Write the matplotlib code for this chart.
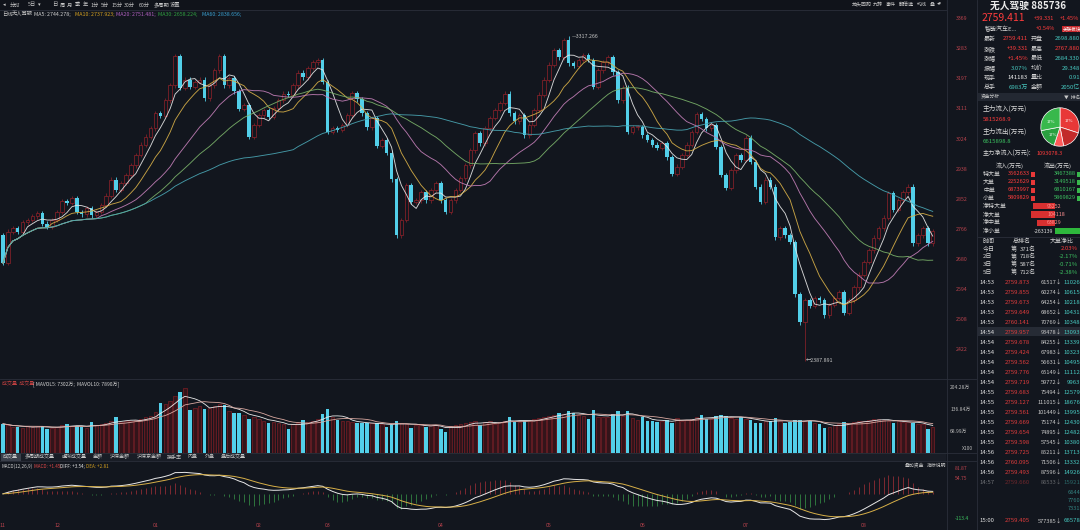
import matplotlib
matplotlib.use('Agg')
import matplotlib.pyplot as plt
from matplotlib.patches import Rectangle
import numpy as np
import pandas as pd

plt.rcParams['font.family'] = ['Noto Sans CJK SC', 'DejaVu Sans']

C = {
    'bg': '#12161e',
    'bar': '#191d26',
    'line': '#2a2f3a',
    'up': '#92222a',
    'down': '#52cfe9',
    'text': '#d6d6d6',
    'sub': '#9a9ea8',
    'red': '#f04848',
    'green': '#3cc060',
    'teal': '#46c8c0',
    'axis_red': '#b8424c',
    'ma5': '#e8e8e8', 'ma10': '#d8b048', 'ma20': '#c47fb8',
    'ma30': '#7bb36a', 'ma60': '#4aa7b5',
}

# ---- daily closes (Nov .. Aug) ----
first_open = 2748.0
closes = [
    2668, 2757, 2768, 2757, 2785, 2791, 2802, 2811, 2780, 2771,
    2791, 2814, 2845, 2840, 2854, 2814, 2808, 2825, 2805, 2814,
    2834, 2860, 2906, 2877, 2897, 2920, 2948, 2977, 3006, 3029,
    3054, 3097, 3089, 3134, 3177, 3260, 3169, 3192, 3172, 3186,
    3192, 3140, 3177, 3220, 3260, 3177, 3197, 3160, 3109, 3120,
    3029, 3063, 3091, 3106, 3086, 3111, 3134, 3152, 3149, 3177,
    3212, 3200, 3226, 3243, 3249, 3186, 3043, 3054, 3049, 3063,
    3091, 3154, 3137, 3097, 3057, 3083, 3003, 3020, 2983, 2908,
    2748, 2791, 2891, 2843, 2848, 2871, 2848, 2877, 2897, 2848,
    2814, 2848, 2877, 2911, 2948, 2991, 3040, 3011, 3054, 3083,
    3106, 3126, 3152, 3097, 3074, 3091, 3034, 3063, 3106, 3149,
    3192, 3235, 3277, 3257, 3306, 3240, 3232, 3249, 3263, 3249,
    3172, 3220, 3243, 3257, 3214, 3134, 3169, 3043, 3057, 3057,
    3034, 3020, 3006, 2997, 3011, 2971, 2923, 2943, 2977, 3006,
    3043, 3094, 3080, 3054, 3063, 3000, 2920, 2883, 2934, 2977,
    2963, 3026, 2957, 2886, 2843, 2906, 2886, 2742, 2768, 2748,
    2728, 2579, 2499, 2562, 2545, 2568, 2562, 2519, 2548, 2568,
    2585, 2525, 2562, 2599, 2634, 2671, 2705, 2740, 2768, 2797,
    2868, 2820, 2848, 2871, 2886, 2725, 2748, 2768, 2725, 2759.411,
]
volumes = [
    90, 85, 80, 80, 78, 82, 80, 82, 82, 75,
    78, 80, 85, 90, 82, 84, 80, 78, 96, 85,
    88, 92, 100, 112, 95, 98, 100, 102, 105, 110,
    115, 125, 155, 150, 160, 175, 188, 200, 132, 140,
    145, 137, 140, 145, 150, 147, 130, 122, 124, 118,
    106, 110, 105, 100, 91, 95, 92, 90, 75, 88,
    92, 101, 95, 100, 105, 119, 135, 112, 101, 100,
    98, 96, 91, 91, 91, 92, 91, 90, 81, 86,
    99, 92, 90, 78, 85, 88, 81, 85, 86, 75,
    65, 82, 85, 88, 92, 95, 100, 86, 95, 98,
    90, 96, 100, 112, 96, 95, 99, 100, 105, 108,
    112, 115, 118, 124, 120, 130, 124, 118, 115, 106,
    132, 112, 110, 112, 119, 130, 115, 130, 108, 101,
    112, 100, 98, 96, 98, 103, 94, 109, 100, 102,
    105, 110, 117, 106, 106, 114, 117, 114, 108, 105,
    112, 106, 103, 94, 91, 100, 98, 109, 98, 91,
    95, 101, 103, 100, 99, 92, 90, 78, 81, 85,
    88, 96, 92, 95, 98, 100, 102, 104, 105, 102,
    100, 91, 98, 96, 95, 94, 90, 88, 73, 80,
]
high_idx, high_val = 115, 3317.266
low_idx, low_val = 163, 2387.891

price_ticks = [3369, 3283, 3197, 3111, 3024, 2938, 2852, 2766, 2680, 2594, 2508, 2422]
vol_ticks = [204.28, 136.84, 68.99]
vol_tick_labels = ['204.28万', '136.84万', '68.99万']
month_idx = [0, 11, 31, 52, 66, 89, 111, 130, 151, 175]
month_labels = ['11', '12', '01', '02', '03', '04', '05', '06', '07', '08']
ma_windows = [5, 10, 20, 30, 60]
ma_header = ['MA5: 2744.278;', 'MA10: 2737.923;', 'MA20: 2751.481;',
             'MA30: 2658.224;', 'MA60: 2838.656;']

# ---- layout helpers (pixel coordinates of the 1080x530 canvas) ----
W, H = 1080, 530
fig = plt.figure(figsize=(W / 100, H / 100), dpi=100)
fig.patch.set_facecolor(C['bg'])


def px_box(x0, y0, x1, y1):
    return [x0 / W, 1 - y1 / H, (x1 - x0) / W, (y1 - y0) / H]


def T(x, y, s, **kw):
    kw.setdefault('va', 'center')
    kw.setdefault('fontsize', 4.3)
    kw.setdefault('color', C['text'])
    return fig.text(x / W, 1 - y / H, s, **kw)


def hline(y, x0, x1, color=C['line'], lw=0.6):
    fig.add_artist(plt.Line2D([x0 / W, x1 / W], [1 - y / H, 1 - y / H], color=color, lw=lw))


def vline(x, y0, y1, color=C['line'], lw=0.6):
    fig.add_artist(plt.Line2D([x / W, x / W], [1 - y0 / H, 1 - y1 / H], color=color, lw=lw))


def rect(x0, y0, x1, y1, color):
    fig.add_artist(Rectangle((x0 / W, 1 - y1 / H), (x1 - x0) / W, (y1 - y0) / H,
                             transform=fig.transFigure, facecolor=color, edgecolor='none', zorder=0))


x = np.arange(len(closes))
xlim = (-0.6, 191.7)
ax = fig.add_axes(px_box(0, 10, 946, 378))
axv = fig.add_axes(px_box(0, 380, 946, 453))
axm = fig.add_axes(px_box(0, 462, 946, 521))
for a in (ax, axv, axm):
    a.set_facecolor(C['bg'])
    a.set_xlim(*xlim)
    for s in a.spines.values():
        s.set_visible(False)
    a.tick_params(length=0)
    a.set_xticks([])

# ---- candles ----
cl = np.array(closes, dtype=float)
op = np.r_[first_open, cl[:-1]]
up = cl >= op
wick = 7.0
hi = np.maximum(op, cl) + wick
lo = np.minimum(op, cl) - wick
hi[high_idx] = high_val
lo[low_idx] = low_val
body_lo = np.minimum(op, cl)
body_h = np.maximum(np.abs(cl - op), 2.0)

ax.vlines(x[up], lo[up], hi[up], color=C['up'], lw=0.5, zorder=2)
ax.vlines(x[~up], lo[~up], hi[~up], color=C['down'], lw=0.6, zorder=2)
ax.bar(x[up], body_h[up], bottom=body_lo[up], width=0.72, facecolor=C['bg'],
       edgecolor=C['up'], lw=0.5, zorder=3)
ax.bar(x[~up], body_h[~up], bottom=body_lo[~up], width=0.72, color=C['down'], lw=0, zorder=3)

s = pd.Series(cl)
ma_colors = [C['ma5'], C['ma10'], C['ma20'], C['ma30'], C['ma60']]
for n, col in zip(ma_windows, ma_colors):
    ax.plot(x, s.rolling(n, min_periods=1).mean(), color=col, lw=0.65, alpha=0.9, zorder=4)

ax.text(high_idx + 0.6, high_val, '—' + f'{high_val:.3f}', fontsize=3.8, color='#c8c8c8',
        va='center', ha='left', zorder=5)
ax.text(low_idx + 0.3, low_val, '←' + f'{low_val:.3f}', fontsize=3.8, color='#c8c8c8',
        va='center', ha='left', zorder=5)

ax.set_ylim(2339, 3392)
ax.yaxis.tick_right()
ax.set_yticks(price_ticks)
ax.set_yticklabels([str(t) for t in price_ticks])
ax.tick_params(axis='y', colors=C['axis_red'], labelsize=3.8, pad=7)

# ---- volume ----
vol = np.array(volumes, dtype=float)
axv.bar(x[up], vol[up], width=0.72, facecolor='#33141a', edgecolor='#7a1f26', lw=0.5)
axv.bar(x[~up], vol[~up], width=0.72, color=C['down'], lw=0)
vs = pd.Series(vol)
axv.plot(x, vs.rolling(5, min_periods=1).mean(), color='#e8e8e8', lw=0.6)
axv.plot(x, vs.rolling(10, min_periods=1).mean(), color='#d9a8a0', lw=0.6)
axv.set_ylim(0, 225)
axv.yaxis.tick_right()
axv.set_yticks(vol_ticks)
axv.set_yticklabels(vol_tick_labels)
axv.tick_params(axis='y', colors='#b8b8b8', labelsize=3.6, pad=3)

# ---- MACD ----
ema12 = s.ewm(span=12, adjust=False).mean()
ema26 = s.ewm(span=26, adjust=False).mean()
diff = ema12 - ema26
dea = diff.ewm(span=9, adjust=False).mean()
hist = 2 * (diff - dea)
pos = hist >= 0
axm.vlines(x[pos], 0, hist[pos], color='#a83038', lw=0.5)
axm.vlines(x[~pos], 0, hist[~pos], color='#3a9a4a', lw=0.5)
axm.plot(x, diff, color='#e8e8e8', lw=0.7)
axm.plot(x, dea, color=C['ma10'], lw=0.7)
lo_m = min(diff.min(), dea.min(), hist.min())
hi_m = max(diff.max(), dea.max(), hist.max())
rng = hi_m - lo_m
axm.set_ylim(lo_m - 0.03 * rng, hi_m + 0.22 * rng)
axm.set_yticks([])
axm.set_xticks(month_idx)
axm.set_xticklabels(month_labels)
axm.tick_params(axis='x', colors=C['axis_red'], labelsize=3.8, pad=1.5)

# ---- frame lines / bands ----
rect(0, 0, 946, 10, '#10131a')
rect(0, 453, 946, 461, C['bar'])
hline(10, 0, 946)
hline(378.5, 0, 976)
hline(453, 0, 976)
hline(461, 0, 976)
vline(946.5, 0, 530)
vline(977, 0, 530)

# top toolbar
tool = [(3, '◂'), (10, '分时'), (28, '5日'), (38, '▾'), (52, '日'), (60, '周'), (67, '月'),
        (75, '季'), (83, '年'), (90, '1分'), (101, '5分'), (111, '15分'), (124, '30分'),
        (139, '60分'), (154, '多周期'), (170, '设置')]
for tx, lab in tool:
    T(tx, 5, lab, fontsize=3.8, color='#c8c8c8')
for tx, lab in [(852, '龙头回购'), (873, '九转'), (886, '事件'), (899, '翻倍选'),
                (917, '均线'), (930, '叠'), (937, '◂▾')]:
    T(tx, 4, lab, fontsize=3.6, color='#c8c8c8')

# MA header
T(2, 14, '日线', fontsize=3.8, color='#c8c8c8')
T(12, 14, '无人驾驶', fontsize=3.8, color='#c8c8c8')
for hx, txt, col in zip([34, 75, 116, 158, 202], ma_header,
                        ['#d0d0d0', '#d4a020', '#b060c0', '#30a040', '#3aa0d0']):
    T(hx, 14, txt, fontsize=3.8, color=col)

# volume header and tabs
T(2, 384, '成交量  成交量', fontsize=3.6, color='#c04040')
T(33, 384, '[ MAVOL5: 7302万;  MAVOL10: 7890万]', fontsize=3.6, color='#d0d0d0')
rect(1, 453.5, 21, 460.5, '#3a3f4a')
tabs = [(3, '成交量'), (25, '多周期成交量'), (62, '虚拟成交量'), (93, '金额'), (110, '沪深金额'),
        (137, '沪深京金额'), (167, '换手率'), (188, '内盘'), (205, '外盘'), (221, '盘后成交量')]
for tx, lab in tabs:
    T(tx, 457, lab, fontsize=3.6, color='#c8c8c8')
T(962, 449, 'X100', fontsize=3.6, color='#b8b8b8')

# MACD header
T(2, 466, 'MACD(12,26,9)', fontsize=3.3, color='#d0d0d0')
T(34, 466, 'MACD: +1.45;', fontsize=3.3, color='#e04848')
T(60, 466, 'DIFF: +3.54;', fontsize=3.3, color='#e8e8e8')
T(86, 466, 'DEA: +2.81', fontsize=3.3, color='#d4a020')
T(905, 465, '叠加资金', fontsize=3.5, color='#c8c8c8')
T(927, 465, '指标说明', fontsize=3.5, color='#c8c8c8')
T(955, 469, '81.87', fontsize=3.6, color=C['axis_red'])
T(955, 479, '54.75', fontsize=3.6, color=C['axis_red'])
T(955, 519, '-113.4', fontsize=3.6, color=C['green'])

# ---- right information panel ----
T(1028, 6, '无人驾驶 885736', fontsize=7, color='#ececec', ha='center', weight='bold')
T(982, 18, '2759.411', fontsize=7.5, color='#ff3c3c')
T(1034, 18, '+39.331', fontsize=4.1, color='#ff3c3c')
T(1079, 18, '+1.45%', fontsize=4.1, color='#ff3c3c', ha='right')
T(985, 29, '智能汽车E...', fontsize=4.3)
T(1036, 29, '+0.54%', fontsize=4.1, color='#ff3c3c')
T(1063, 29, '关联板块', fontsize=3.3, color='white',
  bbox=dict(boxstyle='square,pad=0.2', facecolor='#c8282c', edgecolor='none'))

quote_left = ['最新', '涨跌', '涨幅', '振幅', '现手', '总手']
quote_left_val = ['2759.411', '+39.331', '+1.45%', '3.07%', '141183', '6983万']
quote_left_col = ['#ff3c3c', '#ff3c3c', '#ff3c3c', C['teal'], '#f0f0f0', C['teal']]
quote_right = ['开盘', '最高', '最低', '均价', '量比', '金额']
quote_right_val = ['2698.880', '2767.880', '2684.330', '29.348', '0.91', '2050亿']
quote_right_col = [C['teal'], '#ff3c3c', C['teal'], C['teal'], C['teal'], C['teal']]
for k in range(6):
    y = 39 + 9.7 * k
    T(984, y, quote_left[k], fontsize=4.3)
    T(1028, y, quote_left_val[k], fontsize=4.3, color=quote_left_col[k], ha='right')
    T(1031, y, quote_right[k], fontsize=4.3)
    T(1080, y, quote_right_val[k], fontsize=4.3, color=quote_right_col[k], ha='right')

rect(978, 93, 1080, 101, '#232832')
T(981, 97, '资金分析', fontsize=3.4, color='#c8c8c8')
T(1064, 97, '▼  排名', fontsize=3.4, color='#c8c8c8')

T(983, 109, '主力流入(万元)', fontsize=4.8)
T(983, 119, '5815268.9', fontsize=4.3, color='#ff3c3c')
T(983, 132, '主力流出(万元)', fontsize=4.8)
T(983, 142, '6615898.8', fontsize=4.3, color=C['green'])
T(983, 154, '主力净流入(万元):', fontsize=4.4)
T(1037, 154, '1093078.3', fontsize=4.0, color='#ff3c3c')

# pie
axp = fig.add_axes(px_box(1036, 103, 1084, 151))
axp.pie([30, 17, 8, 17, 28], colors=['#e83838', '#c22a2a', '#ff5a5a', '#2aa040', '#38b84c'],
        startangle=90, counterclock=False,
        wedgeprops=dict(edgecolor='white', linewidth=0.5))
for ang, lab in [(0.55, '17%'), (2.6, '17%'), (-2.3, '17%')]:
    axp.text(0.55 * np.cos(ang), 0.55 * np.sin(ang), lab, fontsize=3, color='white',
             ha='center', va='center')
axp.set_aspect('equal')

T(1010, 166, '流入(万元)', fontsize=4.3, ha='center')
T(1058, 166, '流出(万元)', fontsize=4.3, ha='center')
flow_names = ['特大单', '大单', '中单', '小单']
flow_in = ['3562633', '2252629', '6873997', '5809829']
flow_out = ['3467388', '3149518', '6810167', '5869829']
for k in range(4):
    y = 174 + 8 * k
    T(983, y, flow_names[k], fontsize=4.3)
    T(1030, y, flow_in[k], fontsize=4.1, color='#ff3c3c', ha='right')
    rect(1031, y - 2.5, 1035, y + 2.5, '#e83838')
    T(1076, y, flow_out[k], fontsize=4.1, color=C['green'], ha='right')
    rect(1077, y - 2.5, 1081, y + 2.5, '#38b84c')

net_names = ['净特大单', '净大单', '净中单', '净小单']
net_vals = ['95252', '104118', '63829', '-263139']
net_left = [1033, 1031, 1037, 1055]
net_right = [1055, 1055, 1055, 1081]
net_cols = ['#d83030', '#d83030', '#d83030', '#2eb83c']
for k in range(4):
    y = 206 + 8.4 * k
    T(983, y, net_names[k], fontsize=4.3)
    rect(net_left[k], y - 3.2, net_right[k], y + 3.2, net_cols[k])
    if k < 3:
        T(1047, y, net_vals[k], fontsize=3.8, color='#ff9090')
    else:
        T(1053, y, net_vals[k], fontsize=3.8, color='#e0e0e0', ha='right')

hline(237, 978, 1080)
T(983, 241, '时间', fontsize=4.3)
T(1022, 241, '总排名', fontsize=4.3, ha='center')
T(1062, 241, '大单净比', fontsize=4.3, ha='center')
rank_days = ['今日', '2日', '3日', '5日']
rank_pos = ['371名', '718名', '587名', '712名']
rank_pct = ['2.03%', '-2.17%', '-0.71%', '-2.38%']
rank_col = ['#ff3c3c', C['green'], C['green'], C['green']]
for k in range(4):
    y = 249 + 7.7 * k
    T(983, y, rank_days[k], fontsize=4.3)
    T(1011, y, '第', fontsize=4.3)
    T(1036, y, rank_pos[k], fontsize=4.3, ha='right')
    T(1078, y, rank_pct[k], fontsize=4.3, color=rank_col[k], ha='right')

tick_time = ['14:53', '14:53', '14:53', '14:53', '14:53', '14:54', '14:54', '14:54',
             '14:54', '14:54', '14:54', '14:55', '14:55', '14:55', '14:55', '14:55',
             '14:55', '14:56', '14:56', '14:56', '14:57']
tick_price = ['2759.873', '2759.855', '2759.673', '2759.649', '2760.141', '2759.957',
              '2759.678', '2759.424', '2759.562', '2759.776', '2759.719', '2759.683',
              '2759.127', '2759.561', '2759.669', '2759.654', '2759.598', '2759.725',
              '2760.095', '2759.493', '2759.660']
tick_vol = ['61517', '60274', '64254', '68652', '70769', '93478', '84255', '67983',
            '56631', '65149', '59772', '75494', '111015', '101449', '75174', '74895',
            '57545', '85211', '71506', '87596', '86533']
tick_num = ['11026', '10615', '10218', '10431', '10348', '13093', '13339', '10323',
            '10495', '11112', '9963', '12579', '18676', '13995', '12430', '12482',
            '10380', '13713', '13332', '14926', '15921']
rect(978, 327, 1080, 336, '#262b35')
for k in range(len(tick_time)):
    y = 282 + 10 * k
    al = 0.45 if k == len(tick_time) - 1 else 1.0
    T(979, y, tick_time[k], fontsize=4.3, color='#e0e0e0', alpha=al)
    T(1005, y, tick_price[k], fontsize=4.3, color='#e03c3c', alpha=al)
    T(1062, y, tick_vol[k] + '↓', fontsize=4.1, color='#c8c8c8', ha='right', alpha=al)
    T(1080, y, tick_num[k], fontsize=4.3, color=C['teal'], ha='right', alpha=al)
for k, num in enumerate(['6644', '7760', '7331']):
    T(1080, 493 + 8 * k, num, fontsize=4.1, color=C['teal'], ha='right', alpha=0.6)
T(979, 521, '15:00', fontsize=4.3, color='#e0e0e0')
T(1005, 521, '2759.405', fontsize=4.3, color='#e03c3c')
T(1062, 521, '577385↓', fontsize=4.1, color='#c8c8c8', ha='right')
T(1080, 521, '66578', fontsize=4.3, color=C['teal'], ha='right')

fig.savefig('out.png', dpi=100, facecolor=fig.get_facecolor())
plt.close(fig)
